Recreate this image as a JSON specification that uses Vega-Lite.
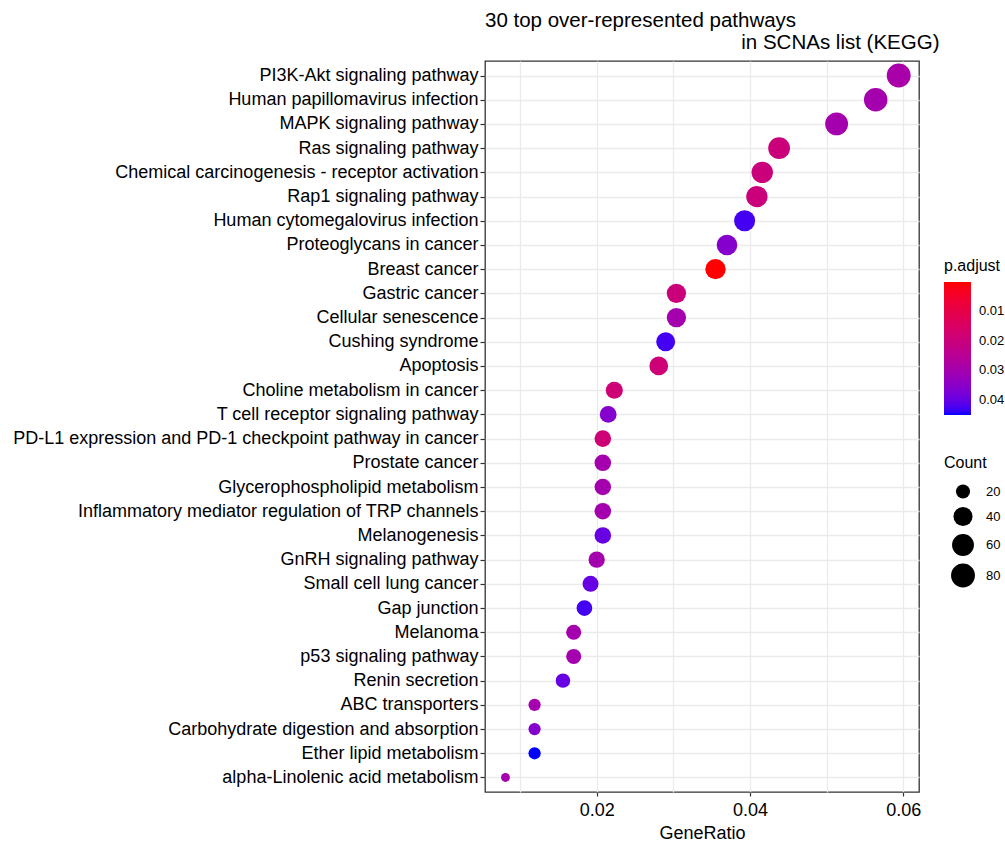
{
  "$schema": "https://vega.github.io/schema/vega-lite/v6.json",
  "width": 434,
  "height": 731,
  "autosize": {"type": "none"},
  "padding": {"left": 485, "top": 61, "right": 86, "bottom": 50},
  "background": "white",
  "title": {
    "text": ["30 top over-represented pathways", "\u200b\u00a0\u00a0\u00a0\u00a0\u00a0\u00a0\u00a0\u00a0\u00a0\u00a0\u00a0\u00a0\u00a0\u00a0\u00a0\u00a0\u00a0\u00a0\u00a0\u00a0\u00a0\u00a0\u00a0\u00a0\u00a0\u00a0\u00a0\u00a0\u00a0\u00a0\u00a0\u00a0\u00a0\u00a0\u00a0\u00a0\u00a0\u00a0\u00a0\u00a0\u00a0\u00a0\u00a0\u00a0\u00a0in SCNAs list (KEGG)"],
    "anchor": "start",
    "frame": "group",
    "font": "Liberation Sans",
    "fontSize": 20.5,
    "fontWeight": "normal",
    "color": "black",
    "lineHeight": 22,
    "offset": 8
  },
  "config": {
    "font": "Liberation Sans",
    "view": {"stroke": "#333333", "strokeWidth": 1.3}
  },
  "data": {
    "values": [
      {"Description": "PI3K-Akt signaling pathway", "GeneRatio": 0.0594, "Count": 80, "padj": 0.029},
      {"Description": "Human papillomavirus infection", "GeneRatio": 0.0564, "Count": 76, "padj": 0.030},
      {"Description": "MAPK signaling pathway", "GeneRatio": 0.0513, "Count": 69, "padj": 0.030},
      {"Description": "Ras signaling pathway", "GeneRatio": 0.0438, "Count": 59, "padj": 0.020},
      {"Description": "Chemical carcinogenesis - receptor activation", "GeneRatio": 0.0416, "Count": 56, "padj": 0.020},
      {"Description": "Rap1 signaling pathway", "GeneRatio": 0.0409, "Count": 55, "padj": 0.020},
      {"Description": "Human cytomegalovirus infection", "GeneRatio": 0.0393, "Count": 53, "padj": 0.043},
      {"Description": "Proteoglycans in cancer", "GeneRatio": 0.0370, "Count": 50, "padj": 0.036},
      {"Description": "Breast cancer", "GeneRatio": 0.0355, "Count": 48, "padj": 0.00008},
      {"Description": "Gastric cancer", "GeneRatio": 0.0304, "Count": 41, "padj": 0.020},
      {"Description": "Cellular senescence", "GeneRatio": 0.0304, "Count": 41, "padj": 0.030},
      {"Description": "Cushing syndrome", "GeneRatio": 0.0290, "Count": 39, "padj": 0.043},
      {"Description": "Apoptosis", "GeneRatio": 0.0281, "Count": 38, "padj": 0.019},
      {"Description": "Choline metabolism in cancer", "GeneRatio": 0.0223, "Count": 30, "padj": 0.019},
      {"Description": "T cell receptor signaling pathway", "GeneRatio": 0.0215, "Count": 29, "padj": 0.036},
      {"Description": "PD-L1 expression and PD-1 checkpoint pathway in cancer", "GeneRatio": 0.0208, "Count": 28, "padj": 0.019},
      {"Description": "Prostate cancer", "GeneRatio": 0.0208, "Count": 28, "padj": 0.030},
      {"Description": "Glycerophospholipid metabolism", "GeneRatio": 0.0208, "Count": 28, "padj": 0.030},
      {"Description": "Inflammatory mediator regulation of TRP channels", "GeneRatio": 0.0208, "Count": 28, "padj": 0.030},
      {"Description": "Melanogenesis", "GeneRatio": 0.0208, "Count": 28, "padj": 0.040},
      {"Description": "GnRH signaling pathway", "GeneRatio": 0.0200, "Count": 27, "padj": 0.030},
      {"Description": "Small cell lung cancer", "GeneRatio": 0.0192, "Count": 26, "padj": 0.040},
      {"Description": "Gap junction", "GeneRatio": 0.0184, "Count": 25, "padj": 0.043},
      {"Description": "Melanoma", "GeneRatio": 0.0170, "Count": 23, "padj": 0.030},
      {"Description": "p53 signaling pathway", "GeneRatio": 0.0170, "Count": 23, "padj": 0.030},
      {"Description": "Renin secretion", "GeneRatio": 0.0156, "Count": 21, "padj": 0.040},
      {"Description": "ABC transporters", "GeneRatio": 0.0119, "Count": 16, "padj": 0.030},
      {"Description": "Carbohydrate digestion and absorption", "GeneRatio": 0.0119, "Count": 16, "padj": 0.036},
      {"Description": "Ether lipid metabolism", "GeneRatio": 0.0119, "Count": 16, "padj": 0.0452},
      {"Description": "alpha-Linolenic acid metabolism", "GeneRatio": 0.0081, "Count": 11, "padj": 0.030}
    ]
  },
  "mark": {"type": "circle", "opacity": 1},
  "encoding": {
    "x": {
      "field": "GeneRatio",
      "type": "quantitative",
      "scale": {"domain": [0.00543, 0.06205], "nice": false, "zero": false},
      "axis": {
        "values": [0.01, 0.02, 0.03, 0.04, 0.05, 0.06],
        "labelExpr": "(datum.value == 0.02 || datum.value == 0.04 || datum.value == 0.06) ? format(datum.value, '.2f') : ''",
        "title": "GeneRatio",
        "titleFontSize": 18,
        "titleFontWeight": "normal",
        "titleColor": "black",
        "titlePadding": 5,
        "labelFontSize": 18,
        "labelColor": "black",
        "labelPadding": 5,
        "labelFlush": false,
        "labelOverlap": false,
        "domain": false,
        "grid": true,
        "gridColor": "#EBEBEB",
        "gridWidth": 1.3,
        "tickColor": "#333333",
        "tickSize": 4,
        "tickWidth": 1.2,
        "tickOpacity": {"condition": {"test": "datum.value == 0.02 || datum.value == 0.04 || datum.value == 0.06", "value": 1}, "value": 0}
      }
    },
    "y": {
      "field": "Description",
      "type": "nominal",
      "sort": null,
      "scale": {"type": "point", "padding": 0.6},
      "axis": {
        "title": null,
        "labelFontSize": 18,
        "labelColor": "black",
        "labelLimit": 1000,
        "labelPadding": 2,
        "tickSize": 5,
        "tickColor": "#333333",
        "tickWidth": 1.2,
        "domain": false,
        "grid": true,
        "gridColor": "#EBEBEB",
        "gridWidth": 1.3
      }
    },
    "color": {
      "field": "padj",
      "type": "quantitative",
      "title": "p.adjust",
      "scale": {"domain": [0.0452, 0.00008], "range": ["blue", "red"], "interpolate": "lab", "zero": false, "nice": false},
      "legend": {
        "orient": "none",
        "legendX": 459,
        "legendY": 197,
        "direction": "vertical",
        "values": [0.01, 0.02, 0.03, 0.04],
        "format": ".2f",
        "gradientLength": 133,
        "gradientThickness": 27,
        "gradientStrokeWidth": 0,
        "titleFontSize": 16,
        "titleFontWeight": "normal",
        "titleColor": "black",
        "titlePadding": 8,
        "labelFontSize": 13,
        "labelColor": "black",
        "labelOffset": 8
      }
    },
    "size": {
      "field": "Count",
      "type": "quantitative",
      "title": "Count",
      "scale": {"type": "pow", "exponent": 0.3, "domain": [11, 80], "range": [78.5, 570], "zero": false, "nice": false},
      "legend": {
        "orient": "none",
        "legendX": 459,
        "legendY": 394,
        "values": [20, 40, 60, 80],
        "symbolType": "circle",
        "symbolFillColor": "black",
        "symbolStrokeColor": "black",
        "symbolStrokeWidth": 0,
        "symbolOpacity": 1,
        "symbolOffset": 7,
        "titleFontSize": 16,
        "titleFontWeight": "normal",
        "titleColor": "black",
        "titlePadding": 13,
        "labelFontSize": 13,
        "labelColor": "black",
        "labelOffset": 11,
        "rowPadding": 7.5
      }
    }
  }
}
